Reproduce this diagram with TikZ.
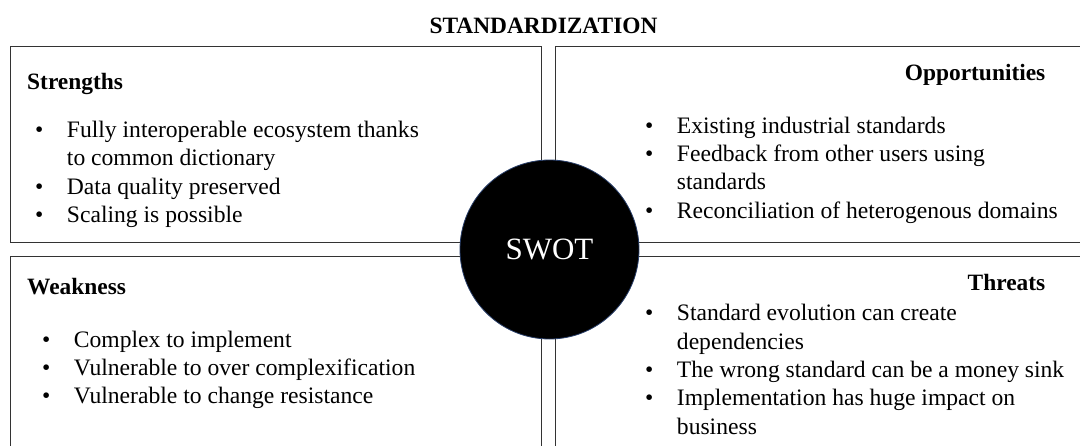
\documentclass[tikz,border=0pt]{standalone}
\usepackage{fontspec}
\setmainfont{Liberation Serif}
\usetikzlibrary{positioning}
\definecolor{rimblue}{RGB}{40,62,105}
\tikzstyle{quad}=[rectangle, draw=black!80, line width=0.9pt, anchor=north west,
  minimum width=531pt, minimum height=196pt, inner sep=0pt]
\tikzstyle{heading}=[inner sep=0pt, font=\fontsize{23.4}{28}\selectfont\bfseries]
\tikzstyle{blist}=[inner sep=0pt, anchor=base west, font=\fontsize{23.6}{28.4}\selectfont]
\tikzstyle{hub}=[circle, fill=black, draw=rimblue, line width=0.8pt,
  minimum size=179pt, inner sep=0pt, text=white, font=\fontsize{31}{36}\selectfont]
\newcommand{\swotlist}[1]{\begin{tabular}[t]{@{}l@{\hspace{23.5pt}}l@{}}#1\end{tabular}}

\begin{document}
\begin{tikzpicture}[x=1pt, y=-1pt]
\useasboundingbox (0,0) rectangle (1080,445);

\node[heading, anchor=base] (title) at (543.5,33.3) {STANDARDIZATION};

% the four quadrants
\node[quad] (sbox) at (10,46) {};
\node[quad] (obox) at (555,46) {};
\node[quad] (wbox) at (10,256) {};
\node[quad] (tbox) at (555,256) {};

\node[heading, anchor=base west] (strengths) at (27,89) {Strengths};
\node[blist] (slist) at (35,137.5) {\swotlist{
  \textbullet & Fully interoperable ecosystem thanks\\
              & to common dictionary\\
  \textbullet & Data quality preserved\\
  \textbullet & Scaling is possible}};

\node[heading, anchor=base east] (opportunities) at (1045.5,80) {Opportunities};
\node[blist] (olist) at (645,133) {\swotlist{
  \textbullet & Existing industrial standards\\
  \textbullet & Feedback from other users using\\
              & standards\\
  \textbullet & Reconciliation of heterogenous domains}};

\node[heading, anchor=base west] (weakness) at (27,294) {Weakness};
\node[blist] (wlist) at (42,347) {\swotlist{
  \textbullet & Complex to implement\\
  \textbullet & Vulnerable to over complexification\\
  \textbullet & Vulnerable to change resistance}};

\node[heading, anchor=base east] (threats) at (1045.5,290) {Threats};
\node[blist] (tlist) at (645,320.7) {\swotlist{
  \textbullet & Standard evolution can create\\
              & dependencies\\
  \textbullet & The wrong standard can be a money sink\\
  \textbullet & Implementation has huge impact on\\
              & business}};

\node[hub] (swot) at (549.5,249.5) {SWOT};

\end{tikzpicture}
\end{document}
